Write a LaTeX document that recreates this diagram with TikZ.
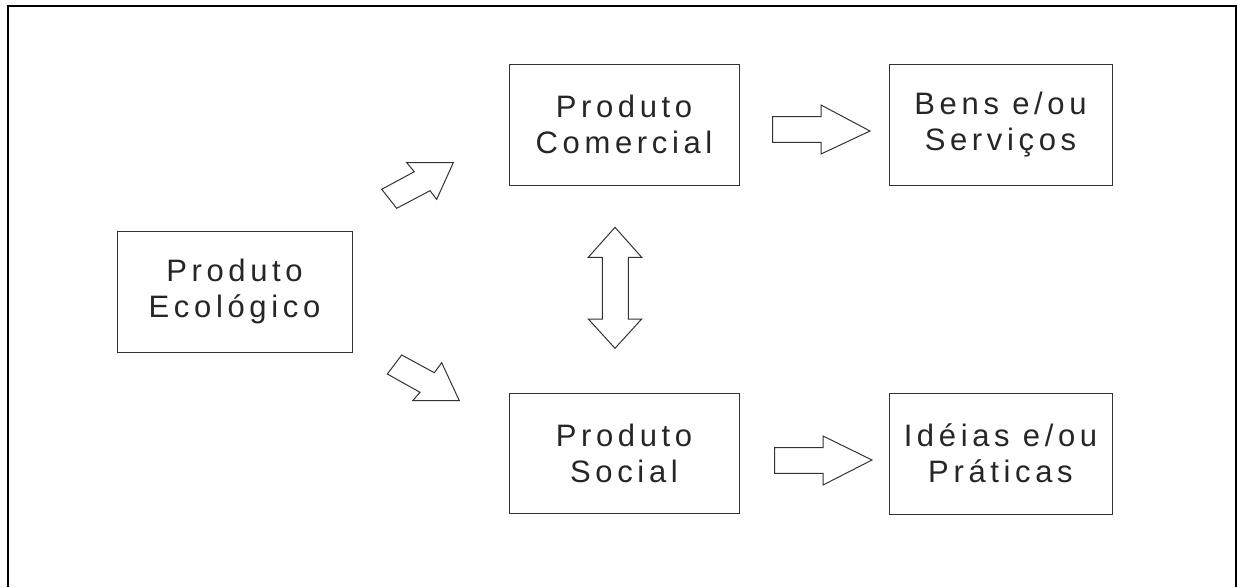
\documentclass[tikz,border=0pt]{standalone}
\usepackage{fontspec}
\setmainfont{Liberation Sans}[LetterSpace=15]
\definecolor{ink}{HTML}{333333}
\begin{document}
\begin{tikzpicture}[x=1pt,y=-1pt,
  box/.style={draw=ink,line width=1pt,inner sep=0pt,align=center,
    font=\fontsize{31}{36}\selectfont,text=black!85},
  blockarrow/.style={draw=ink,line width=1pt,line join=miter,fill=white}]
\useasboundingbox (0,0) rectangle (1237,587);
% outer frame
\draw[line width=2.5pt] (8,587) -- (8,6) -- (1236,6) -- (1236,587);
% boxes
\node[box,minimum width=235pt,minimum height=121pt] (eco) at (234.5,291.5) {Produto\\Ecológico};
\node[box,minimum width=230pt,minimum height=121pt] (com) at (624,124.5) {Produto\\Comercial};
\node[box,minimum width=223pt,minimum height=121pt] (bens) at (1000.5,124.5) {Bens e/ou\\Serviços};
\node[box,minimum width=230pt,minimum height=120pt] (soc) at (624,453) {Produto\\Social};
\node[box,minimum width=223pt,minimum height=121pt] (ideias) at (1000.5,453.5) {Idéias e/ou\\Práticas};
% block arrows
\draw[blockarrow] (406.7,162.7) -- (453.3,162.7) -- (436.7,199.3) -- (430,190.7) -- (396.7,208.3) -- (381.7,189.3) -- (414.3,171.7) -- cycle;
\draw[blockarrow] (401.7,355) -- (434.3,372.7) -- (441.7,362.7) -- (459.3,400.7) -- (412.7,400.7) -- (420,392.3) -- (387.3,374) -- cycle;
\draw[blockarrow] (615,227.3) -- (641.7,257.3) -- (628.3,257.3) -- (628.3,319) -- (641.7,319) -- (615,348.3) -- (588.3,319) -- (602.3,319) -- (602.3,257.3) -- (588.3,257.3) -- cycle;
\draw[blockarrow] (772.7,116.7) -- (821,116.7) -- (821,105) -- (870,131) -- (821,154) -- (821,142.3) -- (772.7,142.3) -- cycle;
\draw[blockarrow] (774.7,447.7) -- (823,447.7) -- (823,436) -- (872,460) -- (823,485) -- (823,473.3) -- (774.7,473.3) -- cycle;
\end{tikzpicture}
\end{document}
